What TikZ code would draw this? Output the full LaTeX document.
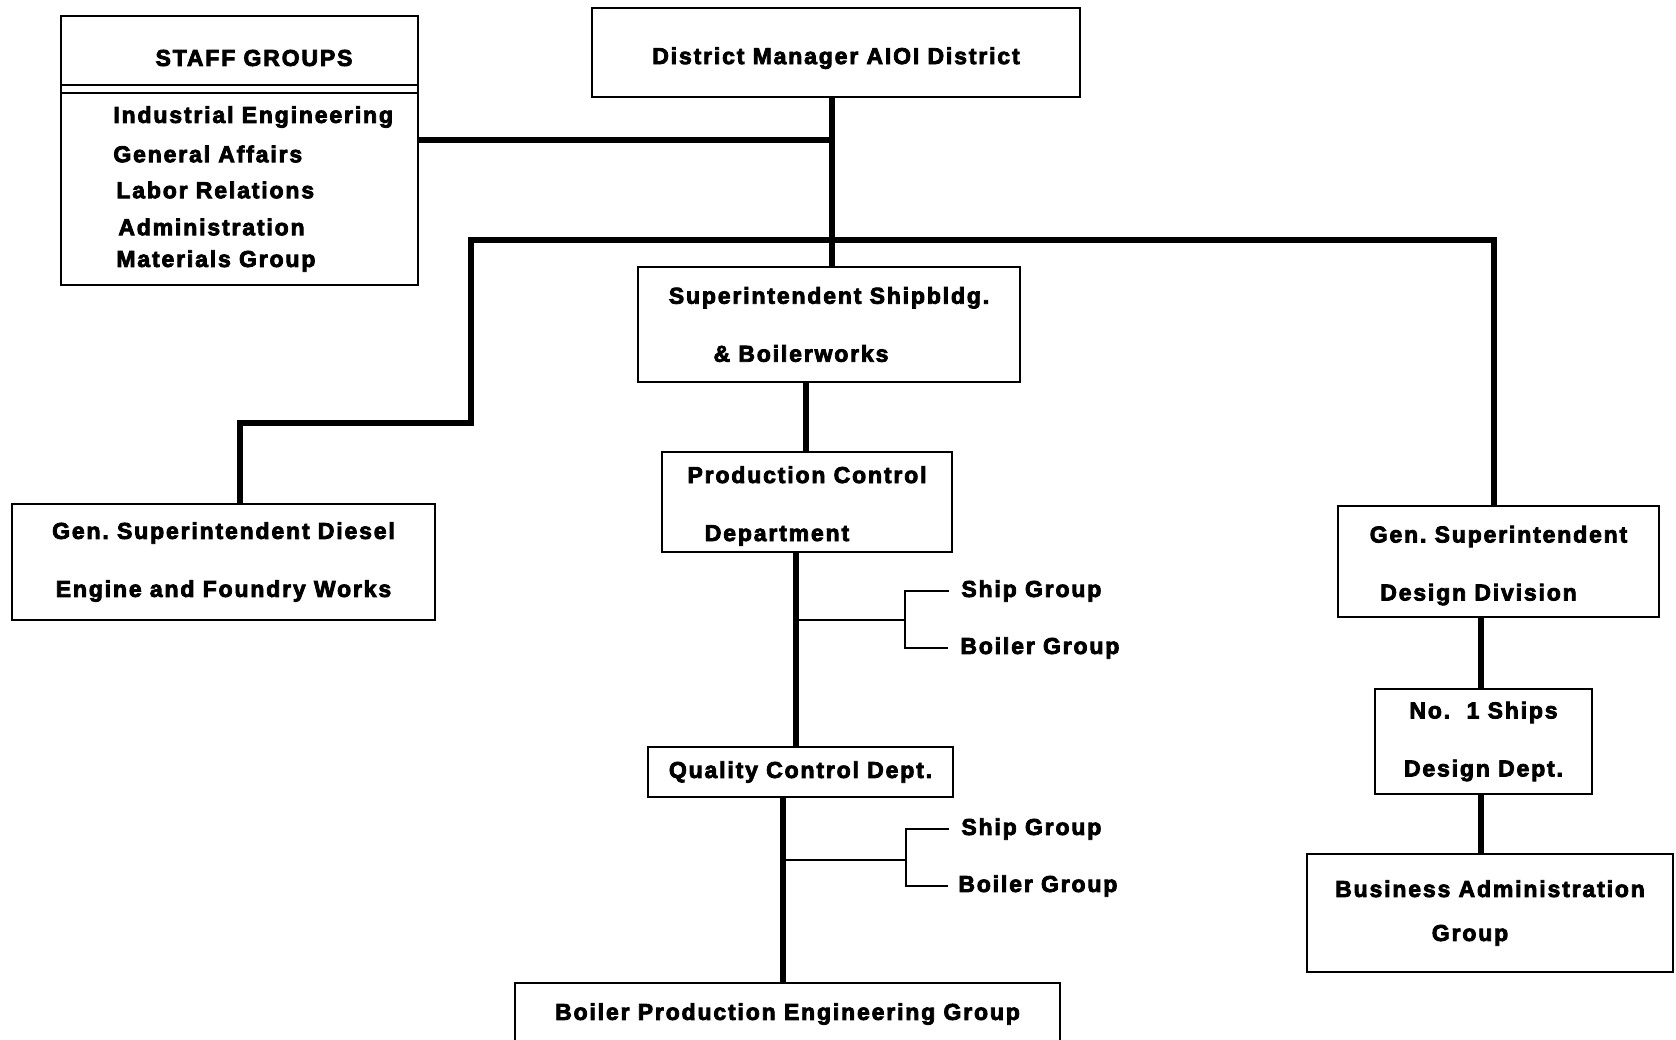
\documentclass[tikz,border=0pt]{standalone}
\usepackage{fontspec}
\setmainfont[LetterSpace=8,BoldFeatures={FakeBold=3.5}]{Liberation Sans}
\usepackage{tikz}
\tikzset{
  baseline = (current bounding box.center),
}
\frenchspacing

\begin{document}
\begin{tikzpicture}[
    x=0.5pt, y=-0.5pt,
    box/.style={draw,line width=1.2pt,align=center,inner sep=0pt,
      font=\bfseries\fontsize{11.5}{14}\selectfont},
    txt/.style={anchor=west,inner sep=0pt,
      font=\bfseries\fontsize{11.5}{14}\selectfont},
    link/.style={line width=2.8pt},
    sub/.style={line width=1pt}
    ]
    \useasboundingbox (0,0) rectangle (1676,1039);
    \clip (0,0) rectangle (1676,1039);
    % boxes
    \node[box,minimum width=244pt,minimum height=44.5pt] (dm) at (836,52.5) {\rule{0pt}{14pt}District Manager AIOI District};
    \node[box,minimum width=178.5pt,minimum height=134.5pt] (staff) at (239.5,150.5) {};
    \node[txt,anchor=center] (staffhead) at (254,58) {STAFF GROUPS};
    \node[txt] (ie) at (113,117) {Industrial Engineering};
    \node[txt] (ga) at (113,154) {General Affairs};
    \node[txt] (lr) at (116,190) {Labor Relations};
    \node[txt] (adm) at (118,227) {Administration};
    \node[txt] (mat) at (116,261) {Materials Group};
    \node[box,minimum width=191pt,minimum height=57.5pt] (sup) at (829,324.5) {Superintendent Shipbldg.\\[15pt]\hspace*{-28pt}\& Boilerworks};
    \node[box,minimum width=211.5pt,minimum height=58pt] (diesel) at (223.5,562) {Gen. Superintendent Diesel\\[15pt]Engine and Foundry Works};
    \node[box,minimum width=145pt,minimum height=50pt] (pc) at (807,502) {\rule{0pt}{12.4pt}Production Control\\[15pt]\hspace*{-30pt}Department};
    \node[box,minimum width=152.5pt,minimum height=25pt] (qc) at (800.5,772) {Quality Control Dept.};
    \node[box,minimum width=272.5pt,minimum height=31pt] (bpeg) at (787.5,1014) {Boiler Production Engineering Group};
    \node[box,minimum width=160.5pt,minimum height=55.5pt] (gsd) at (1498.5,561.5) {\rule{0pt}{12.4pt}Gen. Superintendent\\[15pt]\hspace*{-20pt}Design Division};
    \node[box,minimum width=108.5pt,minimum height=52.5pt] (no1) at (1483.5,741.5) {No.\ \ 1 Ships\\[15pt]Design Dept.};
    \node[box,minimum width=183pt,minimum height=59pt] (ba) at (1490,913) {Business Administration\\[8pt]\hspace*{-20pt}Group};
    \node[txt] (pcship) at (961,591) {Ship Group};
    \node[txt] (pcboil) at (960,648) {Boiler Group};
    \node[txt] (qcship) at (961,829) {Ship Group};
    \node[txt] (qcboil) at (958,886) {Boiler Group};
    % staff header rules
    \coordinate (hd1) at (0,85);
    \coordinate (hd2) at (0,93);
    \draw[line width=1.2pt] (staff.west |- hd1) -- (staff.east |- hd1);
    \draw[line width=1.2pt] (staff.west |- hd2) -- (staff.east |- hd2);
    % connectors
    \coordinate (j1) at (832,140);
    \coordinate (busL) at (471,240);
    \coordinate (busR) at (1494,240);
    \coordinate (stepL) at (240,423);
    \coordinate (v1) at (806,0);
    \coordinate (v2) at (796,0);
    \coordinate (v3) at (783,0);
    \coordinate (v4) at (1481,0);
    \draw[link] (dm.south -| j1) -- (j1 |- sup.north);
    \draw[link] (staff.east |- j1) -- (j1);
    \draw[link] (diesel.north -| stepL) -- (stepL) -| (busL) -- (busR) -- (busR |- gsd.north);
    \draw[link] (sup.south -| v1) -- (pc.north -| v1);
    \draw[link] (pc.south -| v2) -- (qc.north -| v2);
    \draw[link] (qc.south -| v3) -- (bpeg.north -| v3);
    \draw[link] (gsd.south -| v4) -- (no1.north -| v4);
    \draw[link] (no1.south -| v4) -- (ba.north -| v4);
    % side groups
    \coordinate (pcfork) at (905,620);
    \coordinate (qcfork) at (906,860);
    \draw[sub] ([xshift=-6pt]pcship.west) -| (pcfork) |- ([xshift=-6pt]pcboil.west);
    \draw[sub] (pcfork) -- (pcfork -| v2);
    \draw[sub] ([xshift=-6pt]qcship.west) -| (qcfork) |- ([xshift=-5pt]qcboil.west);
    \draw[sub] (qcfork) -- (qcfork -| v3);
  \end{tikzpicture}
\end{document}
